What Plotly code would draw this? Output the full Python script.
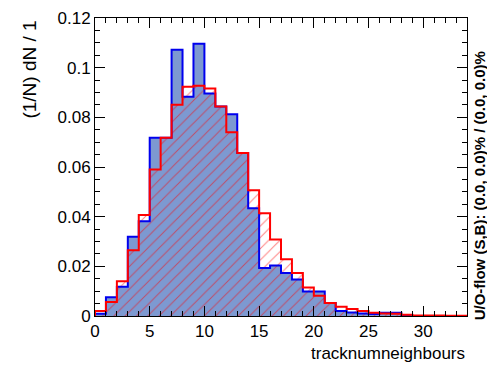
import numpy as np
import plotly.graph_objects as go

# bin edges: 34 bins of width 1 from 0 to 34
bin_edges = list(range(0, 35))

signal = [0.0009, 0.0076, 0.0118, 0.0319, 0.0382, 0.0718, 0.0718, 0.1072, 0.0883, 0.1096,
          0.0896, 0.0844, 0.0812, 0.0656, 0.0434, 0.0193, 0.0203, 0.0173, 0.0147, 0.0099,
          0.0099, 0.0052, 0.0020, 0.0014, 0.0010, 0.0008, 0.0013, 0.0013, 0.0003, 0.0,
          0.0, 0.0, 0.0, 0.0]
background = [0.0020, 0.0056, 0.0140, 0.0265, 0.0407, 0.0590, 0.0718, 0.0851, 0.0923, 0.0927,
              0.0916, 0.0844, 0.0740, 0.0656, 0.0506, 0.0414, 0.0308, 0.0229, 0.0173, 0.0115,
              0.0082, 0.0052, 0.0037, 0.0028, 0.0020, 0.0013, 0.0010, 0.0009, 0.0005, 0.0002,
              0.0002, 0.0002, 0.0001, 0.0001]

x_title = "tracknumneighbours"
y_title = "(1/N) dN / 1"
flow_text = "U/O-flow (S,B): (0.0, 0.0)% / (0.0, 0.0)%"

edges = np.array(bin_edges, dtype=float)
centers = (edges[:-1] + edges[1:]) / 2
widths = np.diff(edges)


def step_xy(vals):
    xs = [edges[0]] + list(edges[:-1]) + [edges[-1]]
    ys = [0.0] + list(vals) + [0.0]
    return xs, ys


FONT = "Liberation Sans, Arial, Helvetica, sans-serif"

fig = go.Figure()
fig.add_trace(go.Bar(x=centers, y=signal, width=widths,
                     marker=dict(color="#7d99d1", line=dict(width=0)),
                     hoverinfo="skip", showlegend=False))
fig.add_trace(go.Bar(x=centers, y=background, width=widths,
                     marker=dict(color="rgba(0,0,0,0)", line=dict(width=0),
                                 pattern=dict(shape="/", fgcolor="#ff0000",
                                              bgcolor="rgba(0,0,0,0)",
                                              size=8, solidity=0.12,
                                              fillmode="overlay")),
                     hoverinfo="skip", showlegend=False))
sx, sy = step_xy(signal)
fig.add_trace(go.Scatter(x=sx, y=sy, mode="lines", line=dict(color="#0000ee", width=2, shape="hv"),
                         hoverinfo="skip", showlegend=False))
bx, by = step_xy(background)
fig.add_trace(go.Scatter(x=bx, y=by, mode="lines", line=dict(color="#ff0000", width=2, shape="hv"),
                         hoverinfo="skip", showlegend=False))

axis_common = dict(showline=True, linecolor="black", linewidth=1, mirror="allticks",
                   ticks="inside", ticklen=10, tickcolor="black", tickwidth=1,
                   showgrid=False, zeroline=False, ticklabeloverflow="allow",
                   tickfont=dict(family=FONT, size=17, color="black"))

fig.update_xaxes(range=[0, 34], tick0=0, dtick=5,
                 minor=dict(ticks="inside", ticklen=5, dtick=1, tickcolor="black", showgrid=False),
                 **axis_common)
fig.update_yaxes(range=[0, 0.12], tick0=0, dtick=0.02,
                 minor=dict(ticks="inside", ticklen=5, dtick=0.005, tickcolor="black", showgrid=False),
                 **axis_common)

fig.update_layout(
    width=487, height=370,
    margin=dict(l=95, r=20, t=9, b=54),
    paper_bgcolor="white", plot_bgcolor="white",
    barmode="overlay", bargap=0,
    font=dict(family=FONT, color="black"),
    annotations=[
        dict(text=x_title, xref="paper", yref="paper", x=1, y=0,
             xanchor="right", yanchor="top", yshift=-26, showarrow=False,
             font=dict(family=FONT, size=17, color="black")),
        dict(text=y_title, xref="paper", yref="paper", x=0, y=0.827,
             xanchor="center", yanchor="middle", xshift=-65, textangle=-90,
             showarrow=False, font=dict(family=FONT, size=19, color="black")),
        dict(text="<b>" + flow_text + "</b>", xref="paper", yref="paper", x=1, y=0.435,
             xanchor="center", yanchor="middle", xshift=12, textangle=-90,
             showarrow=False, font=dict(family=FONT, size=15, color="black")),
    ],
)

fig.write_html("out.html")
